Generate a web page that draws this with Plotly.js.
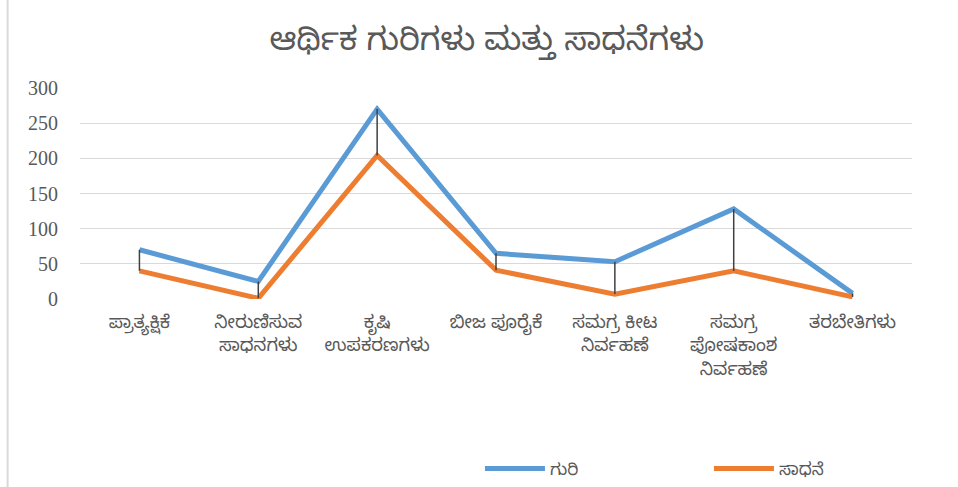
<!DOCTYPE html>
<html>
<head>
<meta charset="utf-8">
<script src="https://cdn.plot.ly/plotly-3.0.1.min.js"></script>
<style>
html,body{margin:0;padding:0;background:#fff;}
#chart{width:958px;height:487px;}
</style>
</head>
<body>
<div id="chart"></div>
<script>
const categories = [
  "ಪ್ರಾತ್ಯಕ್ಷಿಕೆ",
  "ನೀರುಣಿಸುವ<br>ಸಾಧನಗಳು",
  "ಕೃಷಿ<br>ಉಪಕರಣಗಳು",
  "ಬೀಜ ಪೂರೈಕೆ",
  "ಸಮಗ್ರ ಕೀಟ<br>ನಿರ್ವಹಣೆ",
  "ಸಮಗ್ರ<br>ಪೋಷಕಾಂಶ<br>ನಿರ್ವಹಣೆ",
  "ತರಬೇತಿಗಳು"
];
const target = [70, 25, 270, 65, 53, 128, 8];
const achieved = [40, 1, 204, 41, 7, 40, 3];
const seriesNames = ["ಗುರಿ", "ಸಾಧನೆ"];
const titleText = "ಆರ್ಥಿಕ ಗುರಿಗಳು ಮತ್ತು ಸಾಧನೆಗಳು";

const kfont = "'Noto Sans Kannada', 'Noto Sans', sans-serif";

// high-low connector lines built from the data
const hlX = [], hlY = [];
categories.forEach((c, i) => {
  hlX.push(c, c, null);
  hlY.push(target[i], achieved[i], null);
});

const traces = [
  {x: categories, y: target, name: seriesNames[0], type: "scatter", mode: "lines",
   line: {color: "#5B9BD5", width: 5, shape: "linear"}},
  {x: categories, y: achieved, name: seriesNames[1], type: "scatter", mode: "lines",
   line: {color: "#ED7D31", width: 5}},
  {x: hlX, y: hlY, type: "scatter", mode: "lines", showlegend: false, hoverinfo: "skip",
   line: {color: "#404040", width: 1.5}, connectgaps: false}
];

const layout = {
  width: 958, height: 487,
  margin: {l: 80, r: 46, t: 88, b: 188},
  paper_bgcolor: "#fff", plot_bgcolor: "#fff",
  title: {text: titleText, x: 0.508, xanchor: "center", xref: "container", y: 0.92, yanchor: "middle", yref: "container",
          font: {family: kfont, size: 32, color: "#595959"}},
  xaxis: {type: "category", range: [-0.5, 6.5], showgrid: false, zeroline: false, showline: false,
          ticks: "", tickfont: {family: kfont, size: 18, color: "#595959"}, automargin: false,
          ticklabelstandoff: 10},
  yaxis: {range: [0, 300], dtick: 50, showgrid: true, gridcolor: "#D9D9D9", gridwidth: 1.3,
          zeroline: false, showline: false, ticks: "", ticklen: 0,
          tickfont: {family: "'Liberation Serif', 'Times New Roman', serif", size: 20, color: "#595959"},
          automargin: false, ticklabelstandoff: 21},
  legend: {orientation: "h", xref: "container", x: 0.501, xanchor: "left",
           yref: "container", y: 0.037, yanchor: "middle",
           font: {family: kfont, size: 17, color: "#595959"}, entrywidth: 154, itemwidth: 60},
  shapes: [
    {type: "line", xref: "paper", yref: "paper", x0: -0.087, x1: -0.087, y0: -1.0, y1: 1.5,
     line: {color: "#D9D9D9", width: 2}}
  ]
};

Plotly.newPlot("chart", traces, layout, {displayModeBar: false, staticPlot: true});
</script>
</body>
</html>
